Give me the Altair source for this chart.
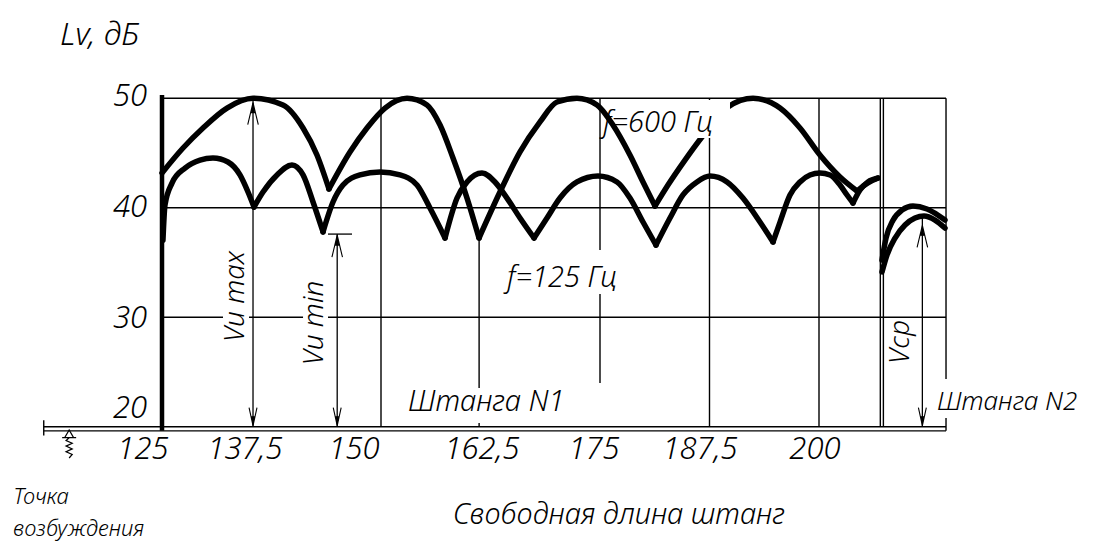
import altair as alt
import pandas as pd

# ---------------- data ----------------
# f = 600 Hz curve (arches between cusps)
up_x = [125.0, 127.4, 129.68, 132.42, 135.39, 138.81, 141.10, 142.69, 144.06,
        144.06, 146.46, 148.40, 150.46, 152.97, 155.25, 156.74, 158.22, 159.82, 161.19,
        161.19, 163.58, 165.87, 168.15, 170.09, 172.37, 174.66, 176.48, 178.42, 179.91, 181.28,
        181.28, 182.76, 184.70, 186.64, 189.61, 192.47, 195.55, 197.83, 200.11, 202.40, 204.34,
        204.34, 205.59, 206.74,
        207.19, 207.65, 208.45, 209.47, 210.73, 212.33, 214.38]
up_y = [43.18, 45.46, 47.29, 49.11, 50.0, 49.39, 47.29, 44.82, 41.72,
        41.72, 45.10, 47.29, 49.11, 50.0, 49.39, 47.56, 44.55, 40.89, 37.24,
        37.24, 41.44, 45.10, 47.84, 49.66, 50.0, 49.39, 47.56, 44.82, 42.36, 40.16,
        40.16, 42.08, 44.36, 46.47, 49.20, 50.0, 49.11, 47.29, 44.82, 42.81, 41.53,
        41.53, 42.28, 42.72,
        35.22, 37.23, 38.87, 39.79, 40.16, 39.89, 38.88]
up_seg = [0] * 9 + [1] * 10 + [2] * 11 + [3] * 11 + [4] * 3 + [5] * 7

# f = 125 Hz curve
lo_x = [125.11, 125.34, 126.14, 127.63, 129.34, 130.82, 132.53, 133.90, 134.82, 135.50,
        135.50, 136.53, 138.13, 139.84, 141.10, 142.24, 143.38,
        143.38, 144.52, 145.66, 147.60, 149.89, 152.17, 154.11, 155.59, 157.31,
        157.31, 158.68, 159.82, 161.53, 163.01, 164.38, 165.87, 167.47,
        167.47, 168.95, 170.43, 172.37, 174.77, 176.94, 178.42, 179.91, 181.39,
        181.39, 182.99, 184.47, 186.07, 187.56, 189.50, 191.32, 193.26, 194.75,
        194.75, 195.55, 196.69, 197.83, 198.97, 200.11, 201.26, 202.40, 203.20, 203.88,
        203.88, 204.68, 205.59, 206.74,
        207.19, 207.76, 208.68, 209.82, 210.96, 211.99, 213.24, 214.38]
lo_y = [37.05, 40.25, 42.26, 43.63, 44.36, 44.55, 44.18, 43.0, 41.44, 40.07,
        40.07, 41.44, 43.0, 43.91, 43.0, 40.53, 37.8,
        37.8, 40.53, 42.08, 43.0, 43.27, 43.0, 42.08, 39.98, 37.24,
        37.24, 40.89, 42.36, 43.18, 42.36, 40.89, 39.07, 37.24,
        37.24, 39.07, 40.89, 42.36, 42.90, 42.36, 40.89, 38.70, 36.60,
        36.60, 39.07, 41.17, 42.36, 42.90, 42.36, 40.89, 38.70, 36.88,
        36.88, 38.70, 41.17, 42.36, 43.0, 43.18, 43.0, 42.08, 41.17, 40.44,
        40.44, 41.63, 42.36, 42.72,
        34.14, 35.69, 37.24, 38.43, 39.06, 39.25, 38.88, 38.15]
lo_seg = [10] * 10 + [11] * 7 + [12] * 9 + [13] * 8 + [14] * 9 + [15] * 9 + [16] * 10 + [17] * 4 + [18] * 8

y_ticks = ["50", "40", "30", "20"]
y_tick_pos = [50.1, 40.0, 29.8, 21.6]
x_ticks = ["125", "137,5", "150", "162,5", "175", "187,5", "200"]
x_tick_pos = [122.83, 134.47, 146.92, 161.53, 174.32, 186.42, 199.54]

# grid / frame lines (x, x2, y, y2)
grid_x = [125, 125, 125, 111.5, 111.5, 111.5, 150, 187.5, 200, 207.0, 207.35, 214.5, 175, 161.2]
grid_x2 = [214.5, 214.5, 214.5, 214.5, 214.5, 111.5, 150, 187.5, 200, 207.0, 207.35, 214.5, 175, 161.2]
grid_y = [50, 40, 30, 20, 19.63, 20.6, 20, 20, 20, 20, 20, 19.63, 24.0, 20]
grid_y2 = [50, 40, 30, 20, 19.63, 19.2, 50, 50, 50, 50, 50, 50, 50, 37.24]

# white boxes behind the drawing's texts
mask_x = [179.57, 163.58, 131.96, 141.10, 152.74, 213.24]
mask_x2 = [189.84, 180.14, 134.93, 143.95, 170.43, 230.8]
mask_y = [49.84, 36.15, 29.3, 29.3, 23.54, 24.36]
mask_y2 = [46.37, 32.13, 30.7, 30.7, 20.34, 20.8]

# dimension arrows (x, y from, y to)
arr_x = [135.39, 145.0, 211.8]
arr_y = [20.0, 20.0, 20.0]
arr_y2 = [50.0, 37.6, 39.25]
tbar_x, tbar_x2, tbar_y = [143.95], [146.69], [37.6]
head_up_x = [135.39, 145.0, 211.8]
head_up_y = [49.6, 37.5, 38.4]
head_dn_x = [135.39, 145.0, 211.8]
head_dn_y = [20.1, 20.1, 20.1]
excite_x, excite_y = [114.4], [18.43]

# ---------------- chart ----------------
XD = [107.42, 230.822]
YD = [9.571, 58.247]
FONT = "Noto Sans"


def X(f):
    return alt.X(f + ":Q", scale=alt.Scale(domain=XD, nice=False, zero=False), axis=None)


def Y(f):
    return alt.Y(f + ":Q", scale=alt.Scale(domain=YD, nice=False, zero=False), axis=None)


grid_df = pd.DataFrame({"x": grid_x, "x2": grid_x2, "y": grid_y, "y2": grid_y2})
grid = alt.Chart(grid_df).mark_rule(color="black", strokeWidth=1.4).encode(
    x=X("x"), x2="x2", y=Y("y"), y2="y2")

thick = alt.Chart(pd.DataFrame({"x": [125], "y": [19.63], "y2": [50.3]})).mark_rule(
    color="black", strokeWidth=4.5).encode(x=X("x"), y=Y("y"), y2="y2")

curve_df = pd.DataFrame({"x": up_x + lo_x, "y": up_y + lo_y, "seg": up_seg + lo_seg})
curves = alt.Chart(curve_df).mark_line(
    color="black", strokeWidth=5.5, interpolate="monotone", strokeCap="round", strokeJoin="round"
).encode(x=X("x"), y=Y("y"), detail="seg:N")

mask_df = pd.DataFrame({"x": mask_x, "x2": mask_x2, "y": mask_y, "y2": mask_y2})
masks = alt.Chart(mask_df).mark_rect(color="white").encode(x=X("x"), x2="x2", y=Y("y"), y2="y2")

arr_df = pd.DataFrame({"x": arr_x, "y": arr_y, "y2": arr_y2})
arrows = alt.Chart(arr_df).mark_rule(color="black", strokeWidth=1.3).encode(x=X("x"), y=Y("y"), y2="y2")
tbar = alt.Chart(pd.DataFrame({"x": tbar_x, "x2": tbar_x2, "y": tbar_y})).mark_rule(
    color="black", strokeWidth=1.3).encode(x=X("x"), x2="x2", y=Y("y"))

UP = "M0,0L-0.24,1M0,0L0.24,1M-0.09,0.45L0,0L0.09,0.45Z"
DN = "M0,0L-0.22,-1M0,0L0.22,-1M-0.09,-0.5L0,0L0.09,-0.5Z"
heads_up = alt.Chart(pd.DataFrame({"x": head_up_x, "y": head_up_y})).mark_point(
    shape=UP, size=1936, filled=True, fill="black", stroke="black", strokeWidth=1.1, opacity=1
).encode(x=X("x"), y=Y("y"))
heads_dn = alt.Chart(pd.DataFrame({"x": head_dn_x, "y": head_dn_y})).mark_point(
    shape=DN, size=1300, filled=True, fill="black", stroke="black", strokeWidth=1.1, opacity=1
).encode(x=X("x"), y=Y("y"))

EXC = ("M0,-1L-0.32,-0.45L0.32,-0.45Z M-0.5,-0.45L0.5,-0.45 M0,-0.45L-0.22,-0.25L0.22,-0.05"
       "L-0.22,0.15L0.22,0.35L-0.22,0.55L0.22,0.75L0,1")
excite = alt.Chart(pd.DataFrame({"x": excite_x, "y": excite_y})).mark_point(
    shape=EXC, size=784, filled=False, stroke="black", strokeWidth=1.2, opacity=1
).encode(x=X("x"), y=Y("y"))


def txt(df, size, align="left", baseline="alphabetic", angle=0):
    kw = dict(font=FONT, fontStyle="italic", fontWeight=300, fontSize=size, color="black",
              align=align, baseline=baseline)
    if angle:
        kw["angle"] = angle
    return alt.Chart(df).mark_text(**kw).encode(x=X("x"), y=Y("y"), text="t:N")


ylab = txt(pd.DataFrame({"x": [123.3] * 4, "y": y_tick_pos, "t": y_ticks}), 31, "right", "middle")
xlab = txt(pd.DataFrame({"x": x_tick_pos, "y": [17.85] * 7, "t": x_ticks}), 31, "center", "middle")
title_y = txt(pd.DataFrame({"x": [113.36], "y": [54.87], "t": ["Lv, дБ"]}), 32)
mid_texts = txt(pd.DataFrame({
    "x": [175.34, 164.38, 153.08],
    "y": [46.91, 32.77, 21.44],
    "t": ["f=600  Гц", "f=125  Гц", "Штанга N1"]}), 29)
rod2 = txt(pd.DataFrame({"x": [213.47], "y": [21.53], "t": ["Штанга N2"]}), 26)
bottom_texts = txt(pd.DataFrame({
    "x": [108.0, 108.0], "y": [12.95, 10.03], "t": ["Точка", "возбуждения"]}), 22)
axis_title = txt(pd.DataFrame({"x": [177.17], "y": [11.12], "t": ["Свободная длина штанг"]}), 29, "center")
rot_texts = txt(pd.DataFrame({
    "x": [133.50, 142.52, 209.36], "y": [31.9, 29.48, 27.74], "t": ["Vu max", "Vu min", "Vср"]}),
    28, "center", "middle", 270)

chart = alt.layer(
    grid, thick, curves, masks, arrows, tbar, heads_up, heads_dn, excite,
    ylab, xlab, title_y, mid_texts, rod2, bottom_texts, axis_title, rot_texts
).properties(
    width=1081, height=533, padding=0,
    autosize=alt.AutoSizeParams(type="none"), background="white"
).configure_view(stroke=None)

chart.save("out.html", embed_options={"renderer": "svg", "actions": False})
